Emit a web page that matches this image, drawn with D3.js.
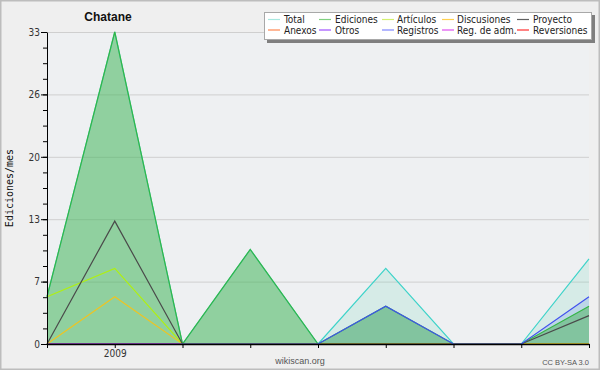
<!DOCTYPE html>
<html><head><meta charset="utf-8">
<script src="https://cdn.jsdelivr.net/npm/d3@7"></script>
<style>
html,body{margin:0;padding:0;background:#efefef;}
svg{display:block;}
</style></head>
<body>
<script>
// ---- data ----
const categories = ["2008-12","2009-01","2009-02","2009-03","2009-04","2009-05","2009-06","2009-07","2009-08"];
const xTickLabels = ["","2009","","","","","","",""];
const total       = [5,33,0,10,0,8,0,0,9];
const ediciones   = [5,33,0,10,0,4,0,0,4];
const articulos   = [5,8,0,0,0,0,0,0,0];
const discusiones = [0,5,0,0,0,0,0,0,0];
const proyecto    = [0,13,0,0,0,0,0,0,3];
const anexos      = [0,0,0,0,0,0,0,0,0];
const otros       = [0,0,0,0,0,0,0,0,0];
const registros   = [0,0,0,0,0,4,0,0,5];
const regAdm      = [0,0,0,0,0,0,0,0,0];
const reversiones = [0,0,0,0,0,0,0,0,0];
const yMax = 33;
const yTickLabels = ["0","7","13","20","26","33"];
const legendNames = ["Total","Ediciones","Artículos","Discusiones","Proyecto","Anexos","Otros","Registros","Reg. de adm.","Reversiones"];

const W = 600, H = 370;
const m = {l:47, r:11, t:32, b:26};

const svg = d3.select("body").append("svg").attr("width",W).attr("height",H);
svg.append("rect").attr("x",0.75).attr("y",0.75).attr("width",W-1.5).attr("height",H-1.5)
  .attr("fill","#efefef").attr("stroke","#bdbdbd").attr("stroke-width",1.5);
svg.append("rect").attr("x",m.l).attr("y",m.t).attr("width",W-m.l-m.r).attr("height",H-m.t-m.b)
  .attr("fill","#eef0f2");

const x = d3.scalePoint().domain(d3.range(categories.length)).range([m.l, W-m.r]);
const y = d3.scaleLinear().domain([0,yMax]).range([H-m.b, m.t]);

const majorVals = d3.range(6).map(i => yMax*i/5);
const minorVals = d3.range(21).map(i => yMax*i/20);

// grid
svg.append("g").attr("class","grid").attr("transform",`translate(${m.l},0)`)
  .call(d3.axisLeft(y).tickValues(majorVals.slice(1)).tickSize(-(W-m.l-m.r)).tickFormat(""))
  .call(g=>g.select(".domain").remove())
  .call(g=>g.selectAll("line").attr("stroke","#cfcfcf").attr("stroke-width",1));

// series
const series = [
  {name:"Total", v:total, line:"#3dd3c9", fill:"rgba(120,215,190,0.2)"},
  {name:"Registros", v:registros, line:"#4050ee", fill:"rgba(110,150,230,0.25)"},
  {name:"Ediciones", v:ediciones, line:"#35b545", fill:"rgba(60,175,70,0.45)"},
  {name:"Anexos", v:anexos, line:"#ff7030"},
  {name:"Otros", v:otros, line:"#9933ff"},
  {name:"Reg. de adm.", v:regAdm, line:"#dd33ee"},
  {name:"Reversiones", v:reversiones, line:"#ee2222"},
  {name:"Discusiones", v:discusiones, line:"#eec422"},
  {name:"Artículos", v:articulos, line:"#b0f010"},
  {name:"Proyecto", v:proyecto, line:"#4a4a4a"}
];
const area = d3.area().x((d,i)=>x(i)).y0(y(0)).y1(d=>y(d));
const line = d3.line().x((d,i)=>x(i)).y(d=>y(d));
series.filter(s=>s.fill).forEach(s=>{
  svg.append("path").datum(s.v).attr("d",area).attr("fill",s.fill);
});
const lineOrder = ["Total","Anexos","Otros","Reg. de adm.","Reversiones","Ediciones","Discusiones","Artículos","Proyecto","Registros"];
lineOrder.forEach(n=>{
  const s = series.find(d=>d.name===n);
  svg.append("path").datum(s.v).attr("d",line).attr("fill","none")
    .attr("stroke",s.line).attr("stroke-width",1.2);
});

// axes
const yAxisMinor = svg.append("g").attr("transform",`translate(${m.l},0)`)
  .call(d3.axisLeft(y).tickValues(minorVals).tickSize(4).tickFormat(""));
yAxisMinor.select(".domain").remove();
yAxisMinor.selectAll("line").attr("stroke","#000");
const yAxis = svg.append("g").attr("transform",`translate(${m.l},0)`)
  .call(d3.axisLeft(y).tickValues(majorVals).tickSize(6).tickSizeOuter(0).tickPadding(1)
    .tickFormat((d,i)=>yTickLabels[i]));
yAxis.selectAll("text").attr("font-family","DejaVu Sans Condensed, DejaVu Sans").attr("font-size",10).attr("fill","#333");
yAxis.selectAll("line").attr("stroke","#000");
yAxis.select(".domain").attr("stroke","#000");

const xAxis = svg.append("g").attr("transform",`translate(0,${H-m.b})`)
  .call(d3.axisBottom(x).tickSize(4).tickSizeOuter(0).tickPadding(2).tickFormat(i=>xTickLabels[i]));
xAxis.selectAll("text").attr("font-family","DejaVu Sans Condensed, DejaVu Sans").attr("font-size",10).attr("fill","#333");
xAxis.selectAll("line").attr("stroke","#000");
xAxis.select(".domain").attr("stroke","#000").attr("stroke-width",1.3);

// title
svg.append("text").attr("x",108).attr("y",21).attr("text-anchor","middle")
  .attr("font-family","Liberation Sans, Arial").attr("font-weight","bold").attr("font-size",12)
  .attr("fill","#111").text("Chatane");

// y axis title
svg.append("text").attr("transform","translate(13,188) rotate(-90)").attr("text-anchor","middle")
  .attr("font-family","DejaVu Sans Mono").attr("font-size",10).attr("fill","#111").text("Ediciones/mes");

// footer
svg.append("text").attr("x",300).attr("y",364).attr("text-anchor","middle")
  .attr("font-family","Liberation Sans, Arial").attr("font-size",9).attr("fill","#555").text("wikiscan.org");
svg.append("text").attr("x",589).attr("y",365).attr("text-anchor","end")
  .attr("font-family","Liberation Sans, Arial").attr("font-size",7.5).attr("fill","#555").text("CC BY-SA 3.0");

// legend
svg.append("rect").attr("x",267).attr("y",15).attr("width",328).attr("height",28).attr("fill","#7f7f7f");
svg.append("rect").attr("x",264.5).attr("y",12.5).attr("width",327).attr("height",27)
  .attr("fill","#fff").attr("stroke","#a8a8a8").attr("stroke-width",1);
const legendColors = ["#a8e8e0","#80d080","#d4f070","#ffd050","#606060","#ff8850","#a050ff","#8088ff","#e050f0","#ff3030"];
const colX = [268,319,382,442,517];
const textX = [284,335,397,457,533];
legendNames.forEach((n,i)=>{
  const c = i%5, r = Math.floor(i/5);
  const ly = 19.5 + r*10.5;
  svg.append("line").attr("x1",colX[c]).attr("x2",colX[c]+12).attr("y1",ly).attr("y2",ly)
    .attr("stroke",legendColors[i]).attr("stroke-width",1.2);
  svg.append("text").attr("x",textX[c]).attr("y",ly+3.5)
    .attr("font-family","DejaVu Sans Condensed, DejaVu Sans").attr("font-size",10).attr("fill","#222").text(n);
});
</script>
</body></html>
